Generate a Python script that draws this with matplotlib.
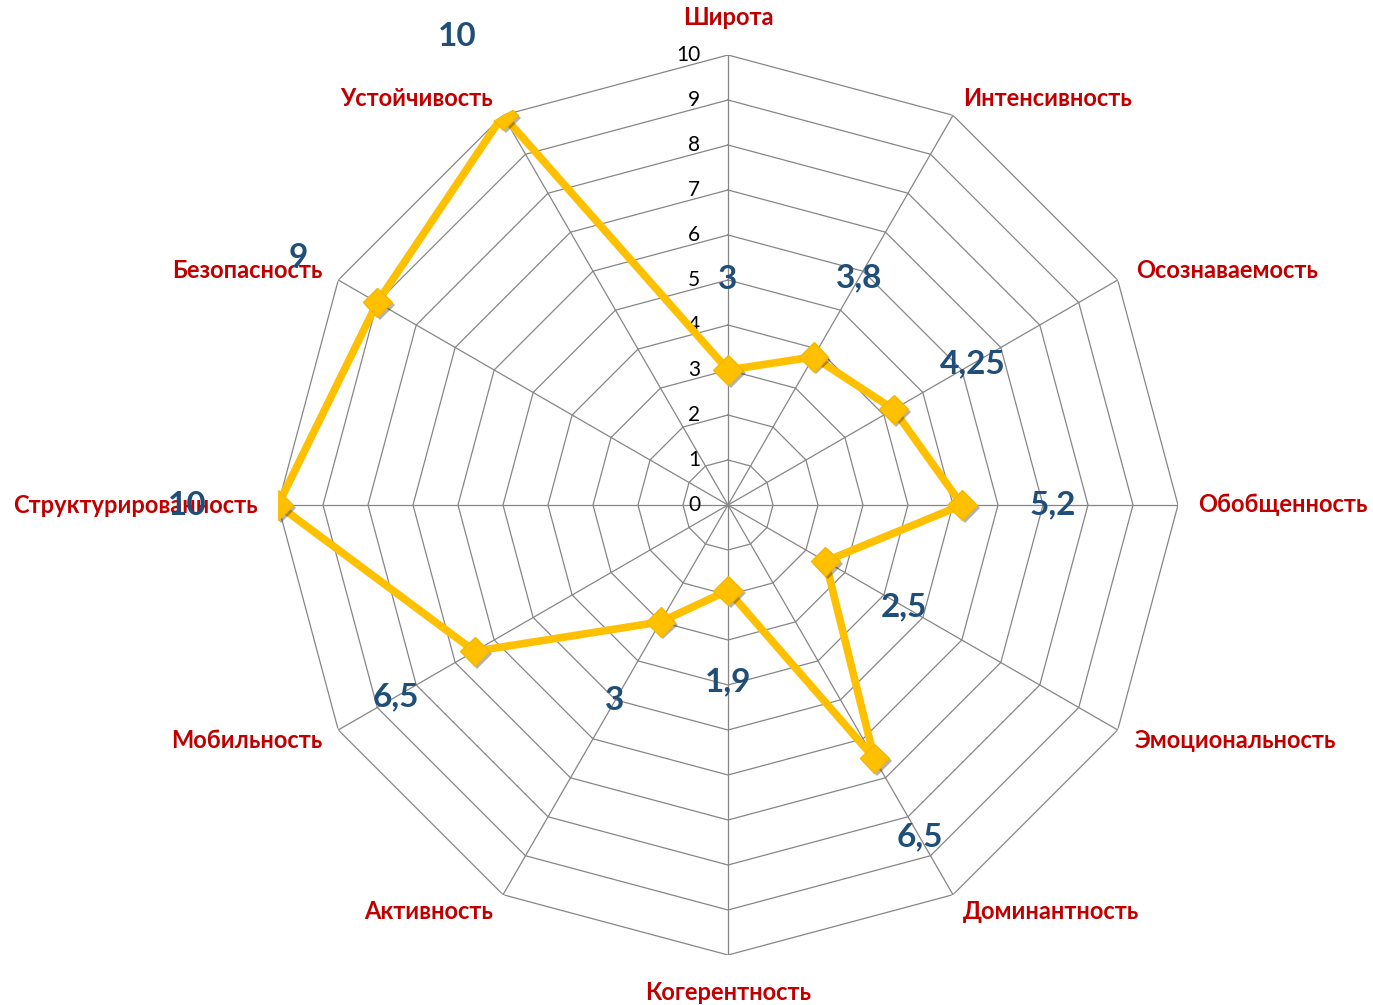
import numpy as np
import matplotlib
matplotlib.use("Agg")
import matplotlib.pyplot as plt
import matplotlib.patheffects as pe

categories = ["Широта", "Интенсивность", "Осознаваемость", "Обобщенность",
              "Эмоциональность", "Доминантность", "Когерентность", "Активность",
              "Мобильность", "Структурированность", "Безопасность", "Устойчивость"]
values = [3, 3.8, 4.25, 5.2, 2.5, 6.5, 1.9, 3, 6.5, 10, 9, 10]
value_labels = ["3", "3,8", "4,25", "5,2", "2,5", "6,5", "1,9", "3", "6,5", "10", "9", "10"]
ticks = list(range(0, 11))

plt.rcParams['font.family'] = ['Lato', 'DejaVu Sans']

W, H = 1373, 1005
fig = plt.figure(figsize=(W / 100, H / 100), dpi=100)
cx, cy, R = 728, 505, 450
ax = fig.add_axes([(cx - R) / W, (H - cy - R) / H, 2 * R / W, 2 * R / H], projection='polar')
ax.set_theta_zero_location('N')
ax.set_theta_direction(-1)
ax.set_ylim(0, 10)
ax.grid(False)
ax.spines['polar'].set_visible(False)
ax.set_xticks([])
ax.set_yticks([])
ax.patch.set_visible(False)

n = len(categories)
angles = np.arange(n) * 2 * np.pi / n
closed = np.append(angles, angles[0])

grid_c = '#868686'
for t in ticks[1:]:
    ax.plot(closed, [t] * (n + 1), color=grid_c, lw=0.9, zorder=1)
for a in angles:
    ax.plot([a, a], [0, 10], color=grid_c, lw=0.9, zorder=1)

# tick labels along the top spoke
for t in ticks:
    ax.annotate(str(t), xy=(0, t), xytext=(-20, 0), textcoords='offset points',
                ha='right', va='center', fontsize=15, color='black', zorder=2)

vals_closed = values + [values[0]]
ax.plot(closed, vals_closed, color='#FFC000', lw=5.5, zorder=3, solid_joinstyle='miter')
ax.plot(angles, values, linestyle='none', marker='D', ms=15, color='#FFC000',
        markeredgecolor='#F5B800', zorder=4,
        path_effects=[pe.SimplePatchShadow(offset=(2, -2), shadow_rgbFace='black', alpha=0.3), pe.Normal()])

# value labels
for a, v, lab in zip(angles, values, value_labels):
    ax.text(a, v + 2.02, lab, ha='center', va='center', fontsize=24, fontweight='bold',
            color='#1F4E79', zorder=6)

# category label offsets (pixels) from the tip of each spoke
offsets_px = [(0, 38), (10, 17), (18, 10), (20, 0), (17, -10), (10, -17),
              (0, -37), (-10, -17), (-16, -10), (-20, 0), (-16, 10), (-10, 17)]
for a, lab, (dx, dy) in zip(angles, categories, offsets_px):
    ha = 'center' if dx == 0 else ('left' if dx > 0 else 'right')
    ax.annotate(lab, xy=(a, 10), xytext=(dx * 0.72, dy * 0.72), textcoords='offset points',
                ha=ha, va='center', fontsize=17, fontweight='bold',
                color='#C00000', zorder=5, annotation_clip=False)

fig.savefig('out.png', dpi=100)
